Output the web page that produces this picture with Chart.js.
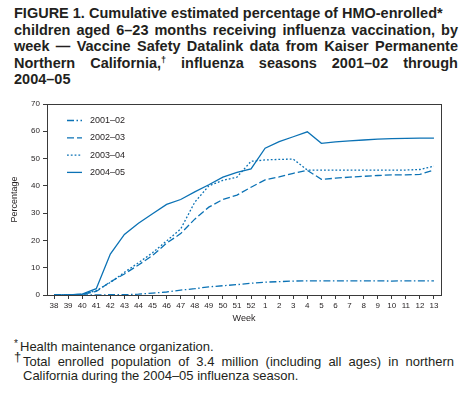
<!DOCTYPE html>
<html>
<head>
<meta charset="utf-8">
<script src="https://cdn.jsdelivr.net/npm/chart.js@4"></script>
<style>
body{margin:0;background:#fff;}
#wrap{position:relative;width:464px;height:393px;overflow:hidden;font-family:"Liberation Sans",Arial,Helvetica,sans-serif;color:#231f20;}
#title{position:absolute;left:14px;top:5px;width:444px;font-weight:bold;font-size:14.5px;line-height:16.5px;}
#title div{white-space:nowrap;}
#title .j{text-align:justify;text-align-last:justify;}
#title .f{display:flex;justify-content:space-between;}
#title .dg{font-size:9px;vertical-align:5px;line-height:0;}
#chartBox{position:absolute;left:0;top:96px;width:464px;height:232px;}
#notes{position:absolute;left:0;top:340px;width:464px;font-size:13px;line-height:14.5px;}
#notes .ln{position:relative;white-space:nowrap;}
#notes .mk{position:absolute;left:14px;}
</style>
</head>
<body>
<div id="wrap">
  <div id="title">
    <div>FIGURE 1. Cumulative estimated percentage of HMO-enrolled*</div>
    <div class="j">children aged 6–23 months receiving influenza vaccination, by</div>
    <div class="j">week — Vaccine Safety Datalink data from Kaiser Permanente</div>
    <div class="f"><span>Northern</span><span>California,<span class="dg">†</span></span><span>influenza</span><span>seasons</span><span>2001–02</span><span>through</span></div>
    <div>2004–05</div>
  </div>
  <div id="chartBox"><canvas id="lineChart" width="464" height="232"></canvas></div>
  <div id="notes">
    <div class="ln" style="padding-left:20px;"><span class="mk" style="top:-3px;font-size:10px;">*</span>Health maintenance organization.</div>
    <div class="ln" style="padding-left:23px;width:431px;text-align:justify;text-align-last:justify;"><span class="mk" style="top:-5px;font-size:13px;">†</span>Total enrolled population of 3.4 million (including all ages) in northern</div>
    <div class="ln" style="padding-left:23px;">California during the 2004–05 influenza season.</div>
  </div>
</div>
<script>
// weeks 38-52 then 1-13
const weeks = ['38','39','40','41','42','43','44','45','46','47','48','49','50','51','52',
               '1','2','3','4','5','6','7','8','9','10','11','12','13'];
const yTicks = [0, 10, 20, 30, 40, 50, 60, 70];

const season0102 = [0, 0, 0, 0, 0.1, 0.1, 0.3, 0.7, 1.1, 1.8, 2.3, 3.0, 3.4, 3.8, 4.3,
                    4.7, 4.9, 5.1, 5.2, 5.2, 5.2, 5.2, 5.2, 5.2, 5.1, 5.2, 5.2, 5.2];
const season0203 = [0, 0, 0.3, 1.3, 4.8, 7.7, 11, 14.5, 19, 22.5, 27.8, 32.2, 35, 36.6, 39.5,
                    42.2, 43.3, 44.6, 45.7, 42.4, 42.8, 43.2, 43.5, 43.8, 44, 44, 44.2, 45.8];
const season0304 = [0, 0, 0.2, 1.6, 4.6, 8.3, 11.8, 15.5, 19.8, 24.2, 34, 40, 42, 43.2, 49,
                    49.5, 49.7, 49.8, 45.8, 45.8, 45.8, 45.8, 45.8, 45.8, 45.8, 45.8, 46, 47.2];
const season0405 = [0, 0, 0.3, 2.3, 15, 22.2, 26.3, 29.8, 33.2, 35, 37.8, 40.4, 43.2, 44.9, 46.2,
                    53.8, 56.2, 58, 59.8, 55.6, 56.1, 56.5, 56.8, 57.1, 57.3, 57.4, 57.5, 57.5];

const seasonLabels = ['2001–02', '2002–03', '2003–04', '2004–05'];
const blue = '#0b72b5';
const ink = '#231f20';
const font = '"Liberation Sans", Arial, Helvetica, sans-serif';

// legend drawn inside the plot, top left
const insideLegend = {
    id: 'insideLegend',
    afterDraw(chart) {
        const ctx = chart.ctx;
        const a = chart.chartArea;
        ctx.save();
        chart.data.datasets.forEach((ds, i) => {
            const y = a.top + 16.5 + i * 17.3;
            ctx.beginPath();
            ctx.strokeStyle = ds.borderColor;
            ctx.lineWidth = ds.borderWidth;
            ctx.setLineDash(ds.borderDash || []);
            ctx.moveTo(a.left + 20, y);
            ctx.lineTo(a.left + 35, y);
            ctx.stroke();
            ctx.setLineDash([]);
            ctx.fillStyle = ink;
            ctx.font = '9px ' + font;
            ctx.textBaseline = 'middle';
            ctx.fillText(ds.label, a.left + 43, y);
        });
        ctx.restore();
    }
};

// box round the plot
const frame = {
    id: 'frame',
    afterDraw(chart) {
        const a = chart.chartArea;
        const ctx = chart.ctx;
        ctx.save();
        ctx.strokeStyle = '#3a3a3a';
        ctx.lineWidth = 1;
        ctx.strokeRect(Math.round(a.left) + 0.5, Math.round(a.top) + 0.5,
                       Math.round(a.right - a.left), Math.round(a.bottom - a.top));
        ctx.restore();
    }
};

const linectx = document.getElementById('lineChart').getContext('2d');
const myLineChart = new Chart(linectx, {
    type: 'line',
    data: {
        labels: weeks,
        datasets: [
            { label: seasonLabels[0], data: season0102, borderColor: blue, borderWidth: 1.3, borderDash: [7, 2.5, 1.5, 2.5] },
            { label: seasonLabels[1], data: season0203, borderColor: blue, borderWidth: 1.3, borderDash: [7, 3] },
            { label: seasonLabels[2], data: season0304, borderColor: blue, borderWidth: 1.3, borderDash: [1.8, 2] },
            { label: seasonLabels[3], data: season0405, borderColor: blue, borderWidth: 1.3 }
        ]
    },
    options: {
        responsive: false,
        animation: false,
        devicePixelRatio: 1,
        elements: { point: { radius: 0 }, line: { tension: 0, fill: false } },
        layout: { padding: { top: 8, right: 23, left: 0, bottom: 0 } },
        plugins: { legend: { display: false }, tooltip: { enabled: false } },
        scales: {
            x: {
                offset: true,
                grid: { drawOnChartArea: false, tickLength: 4, color: '#3a3a3a' },
                border: { color: '#3a3a3a', width: 1 },
                ticks: { color: ink, font: { family: font, size: 8 }, padding: 2, maxRotation: 0, autoSkip: false },
                title: { display: true, text: 'Week', color: ink, font: { family: font, size: 9 }, padding: { top: 0, bottom: 4 } },
                afterFit(scale) { scale.height = 33; }
            },
            y: {
                min: 0,
                max: 70,
                grid: { drawOnChartArea: false, tickLength: 4, color: '#3a3a3a' },
                border: { color: '#3a3a3a', width: 1 },
                ticks: { color: ink, font: { family: font, size: 8 }, padding: 3 },
                afterBuildTicks(scale) { scale.ticks = yTicks.map(v => ({ value: v })); },
                title: { display: true, text: 'Percentage', color: ink, font: { family: font, size: 9 }, padding: { top: 9, bottom: 0 } },
                afterFit(scale) { scale.width = 47; }
            }
        }
    },
    plugins: [insideLegend, frame]
});
</script>
</body>
</html>
